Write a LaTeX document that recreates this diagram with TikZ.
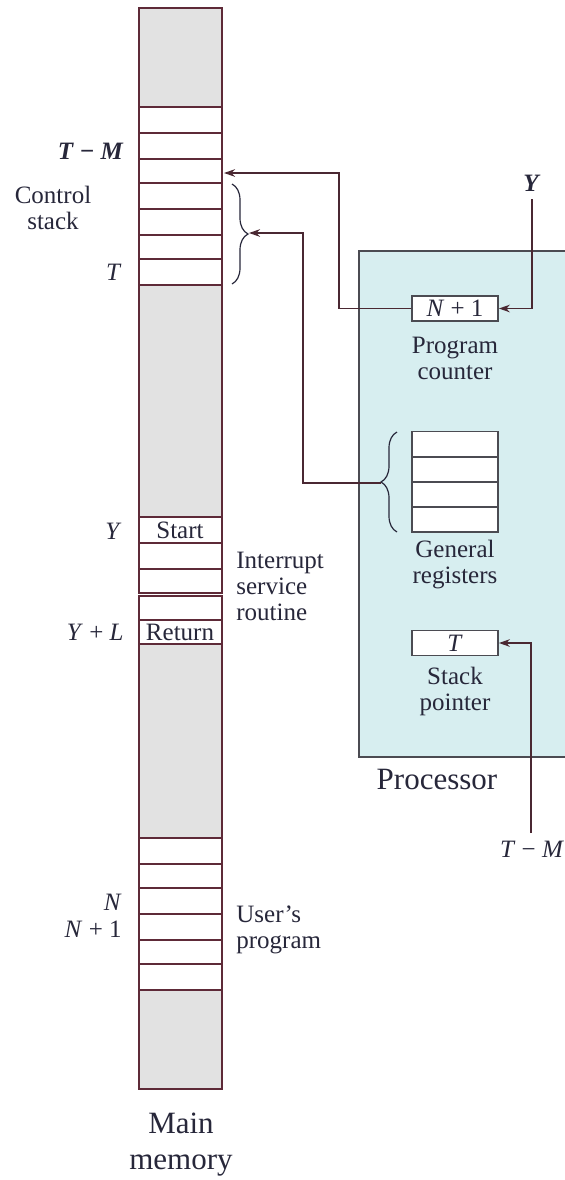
\documentclass[tikz,border=0pt]{standalone}
\usepackage{fontspec}
\setmainfont{Liberation Serif}
\usetikzlibrary{arrows.meta,decorations.pathreplacing}

\definecolor{memline}{HTML}{5E2A38}
\definecolor{memgray}{HTML}{E2E2E2}
\definecolor{procfill}{HTML}{D7EEF0}
\definecolor{procline}{HTML}{4B4B52}
\definecolor{wire}{HTML}{4A2832}
\definecolor{ink}{HTML}{27273A}

\tikzset{
  graycell/.style={fill=memgray, draw=memline, line width=0.9pt},
  whitecell/.style={fill=white, draw=memline, line width=0.9pt},
  lbl/.style={text=ink, font=\fontsize{12.5pt}{13pt}\selectfont, inner sep=1pt},
  biglbl/.style={text=ink, font=\fontsize{15.5pt}{18pt}\selectfont, inner sep=1pt, align=center},
  reg/.style={draw=procline, fill=white, line width=0.9pt, minimum width=43pt, minimum height=12.5pt,
              inner sep=0pt, text=ink, font=\fontsize{12.5pt}{13pt}\selectfont},
  wireline/.style={draw=wire, line width=0.75pt},
  tip/.style={-{Stealth[length=5.5pt,width=3.8pt]}},
  bracestyle/.style={draw=ink, line width=0.6pt, decorate, decoration={brace, amplitude=8pt}},
}

\begin{document}
\begin{tikzpicture}[x=0.5pt, y=-0.5pt]
\useasboundingbox (0,0) rectangle (565,1180);

% ---------- main memory column ----------
\draw[graycell] (139,8) rectangle (222,107);
\foreach \a/\b in {107/133,133/159,159/183,183/209,209/235,235/259,259/285}
  \draw[whitecell] (139,\a) rectangle (222,\b);
\draw[graycell] (139,285) rectangle (222,517);
\foreach \a/\b in {517/543,543/569,569/593,596/620,620/644}
  \draw[whitecell] (139,\a) rectangle (222,\b);
\draw[graycell] (139,644) rectangle (222,838);
\foreach \a/\b in {838/864,864/888,888/914,914/940,940/964,964/990}
  \draw[whitecell] (139,\a) rectangle (222,\b);
\draw[graycell] (139,990) rectangle (222,1089);

\coordinate (pcin) at (224,173);
\coordinate (stackin) at (249,233);

% memory labels
\node[lbl, anchor=east, font=\fontsize{12.5pt}{13pt}\selectfont\bfseries] (tmtop) at (126,151) {\textit{T} − \textit{M}};
\node[lbl, align=center] (ctrl) at (53,208) {Control\\stack};
\node[lbl, anchor=east] (tlab) at (124,272) {\textit{T}};
\node[lbl, anchor=east] (ylab) at (124,531) {\textit{Y}};
\node[lbl, anchor=east] (yllab) at (126,632) {\textit{Y} + \textit{L}};
\node[lbl] (start) at (180,530) {Start};
\node[lbl] (ret) at (180,632) {Return};
\node[lbl, anchor=west, align=left] (isr) at (234,586) {Interrupt\\service\\routine};
\node[lbl, anchor=east] (nlab) at (124,902) {\textit{N}};
\node[lbl, anchor=east] (n1lab) at (124,929) {\textit{N} + 1};
\node[lbl, anchor=west, align=left] (user) at (234,930) {User’s\\program};
\node[biglbl] (mainmem) at (181,1145) {Main\\memory};

% control stack brace
\draw[bracestyle] (232,184) -- (232,284) coordinate[midway] (sbmid);

% ---------- processor ----------
\fill[procfill] (359,251) rectangle (566,757);
\draw[procline, line width=0.9pt] (566,251) -- (359,251) -- (359,757) -- (566,757);
\node[biglbl] (proc) at (437,779) {Processor};

\node[reg] (pc) at (455,308.5) {\textit{N} + 1};
\node[lbl, align=center] (pclab) at (455,358) {Program\\counter};

\node[reg] (r1) at (455,444) {};
\node[reg] (r2) at (455,469.5) {};
\node[reg] (r3) at (455,495) {};
\node[reg] (r4) at (455,519.5) {};
\node[lbl, align=center] (reglab) at (455,565) {General\\registers};
\draw[bracestyle] (397,532) -- (397,432);
\coordinate (regtip) at (381,483);

\node[reg] (sp) at (455,643) {\textit{T}};
\node[lbl, align=center] (splab) at (455,691) {Stack\\pointer};

% external inputs
\node[lbl, font=\fontsize{12.5pt}{13pt}\selectfont\bfseries] (yin) at (532,183) {\textit{Y}};
\node[lbl] (tmin) at (532,849) {\textit{T} − \textit{M}};

% ---------- connectors ----------
\draw[wireline, tip] (pc.west) -- (339,308.5) |- (pcin);
\draw[wireline, tip] (regtip) -- (303,483) |- (stackin);
\draw[wireline, tip] (532,199) |- (pc.east);
\draw[wireline, tip] (531,833) |- (sp.east);
\end{tikzpicture}
\end{document}
